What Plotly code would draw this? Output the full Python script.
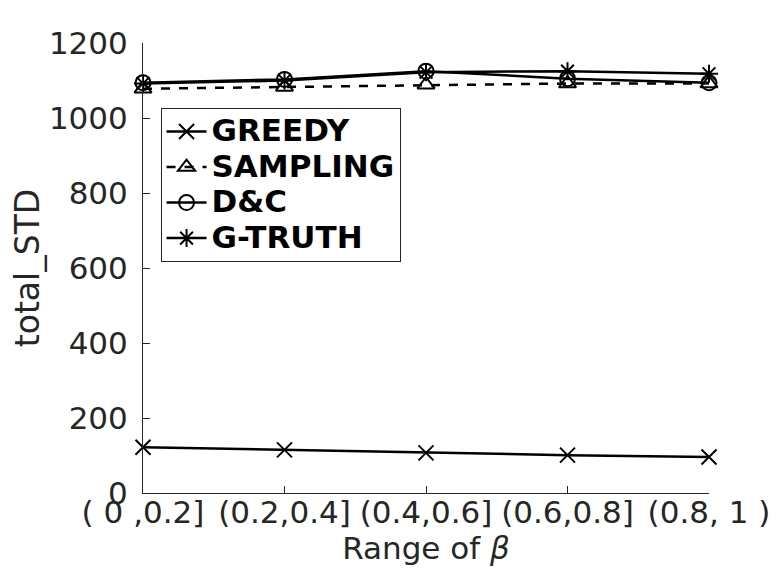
import plotly.graph_objects as go

# beta ranges on the x axis
beta_ranges = ["( 0 ,0.2]", "(0.2,0.4]", "(0.4,0.6]", "(0.6,0.8]", "(0.8, 1 )"]

# total_STD per method
greedy = [122, 115, 107, 101, 96]
sampling = [1078, 1083, 1089, 1092, 1092]
dandc = [1094, 1103, 1125, 1105, 1094]
gtruth = [1092, 1100, 1122, 1125, 1118]

y_ticks = [0, 200, 400, 600, 800, 1000, 1200]

fig = go.Figure()

series = [
    ("GREEDY", greedy, "x-thin-open", "solid"),
    ("SAMPLING", sampling, "triangle-up-open", "dash"),
    ("D&C", dandc, "circle-open", "solid"),
    ("G-TRUTH", gtruth, "asterisk-open", "solid"),
]

for name, values, symbol, dash in series:
    fig.add_trace(
        go.Scatter(
            x=beta_ranges,
            y=values,
            # bigger text inside a smaller legend font keeps rows tight
            name='<span style="font-size:31px">' + name + "</span>",
            mode="lines+markers",
            line=dict(color="black", width=2.5, dash=dash),
            marker=dict(symbol=symbol, size=15, color="black",
                        line=dict(color="black", width=2)),
            cliponaxis=False,
        )
    )

tick_font = dict(family="DejaVu Sans", size=31, color="#262626")

# page body has an 8px margin, so the figure is a bit smaller than the window
fig.update_layout(
    width=770,
    height=576,
    margin=dict(l=134.5, r=69, t=35.3, b=91.3),
    plot_bgcolor="white",
    paper_bgcolor="white",
    showlegend=True,
    legend=dict(
        x=0.031,
        y=0.856,
        xanchor="left",
        yanchor="top",
        bgcolor="white",
        bordercolor="#262626",
        borderwidth=1,
        font=dict(family="DejaVu Sans", size=25, color="black", weight="bold"),
        tracegroupgap=0,
        itemwidth=40,
    ),
    xaxis=dict(
        type="category",
        range=[0, 4],
        automargin=False,
        showline=True,
        linecolor="#262626",
        linewidth=1,
        ticks="inside",
        ticklen=7,
        tickcolor="#262626",
        showgrid=False,
        zeroline=False,
        tickfont=tick_font,
        ticklabelstandoff=-8,
        title=dict(text="Range of <i>β</i>", font=tick_font, standoff=2),
    ),
    yaxis=dict(
        range=[0, 1200],
        tickvals=y_ticks,
        automargin=False,
        showline=True,
        linecolor="#262626",
        linewidth=1,
        ticks="inside",
        ticklen=7,
        tickcolor="#262626",
        showgrid=False,
        zeroline=False,
        tickfont=tick_font,
        ticklabelstandoff=8,
        title=dict(text="total_STD",
                   font=dict(family="DejaVu Sans", size=33, color="#262626"),
                   standoff=15),
    ),
)

fig.write_html("out.html")
